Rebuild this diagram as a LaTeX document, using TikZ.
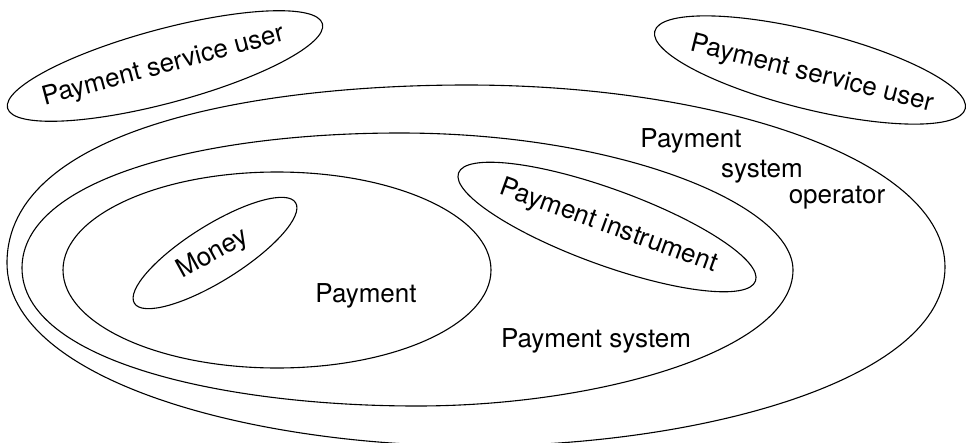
\documentclass[tikz,border=0pt]{standalone}
\usepackage{fontspec}
\setmainfont{TeX Gyre Heros}
\usetikzlibrary{shapes.geometric}
\begin{document}
\begin{tikzpicture}[x=1pt,y=-1pt,
  outline/.style={draw=black,line width=1.1pt},
  oval/.style={ellipse,outline,inner sep=0pt,outer sep=0pt},
  lbl/.style={font=\fontsize{26}{30}\selectfont,inner sep=0pt,anchor=base}]
\useasboundingbox (0,0) rectangle (967,442);
\begin{scope}
  \clip (0,0) rectangle (967,442);
  % payment system operator (outermost region)
  \draw[outline] (7,263)
    .. controls (7,130) and (250,85) .. (467,85)
    .. controls (720,85) and (945,160) .. (945,267)
    .. controls (945,380) and (700,446) .. (475,446)
    .. controls (250,446) and (7,380) .. cycle;
  % payment system
  \draw[outline] (22,268)
    .. controls (22,180) and (200,133) .. (400,133)
    .. controls (620,133) and (793,205) .. (793,270)
    .. controls (793,350) and (600,406) .. (417,406)
    .. controls (220,406) and (22,360) .. cycle;
\end{scope}

% oval regions
\node[oval,minimum width=428pt,minimum height=196pt] (payment) at (277,270) {};
\node[oval,minimum width=190pt,minimum height=56pt,rotate=32] (money) at (215,253) {};
\node[oval,minimum width=316pt,minimum height=76pt,rotate=-20] (instrument) at (607,227) {};
\node[oval,minimum width=326pt,minimum height=74pt,rotate=15] (userL) at (165,66) {};
\node[oval,minimum width=320pt,minimum height=78pt,rotate=-14] (userR) at (810,70) {};

% labels
\node[lbl,rotate=15] (tUserL) at (165,73) {Payment service user};
\node[lbl,rotate=-14] (tUserR) at (810,81) {Payment service user};
\node[lbl,rotate=-20] (tInstr) at (606,233) {Payment instrument};
\node[lbl,rotate=29] (tMoney) at (216,260) {Money};
\node[lbl] (tPayment) at (366,302) {Payment};
\node[lbl] (tSystem) at (596,347) {Payment system};
\node[lbl] (tOp1) at (691,147) {Payment};
\node[lbl] (tOp2) at (762,177) {system};
\node[lbl] (tOp3) at (837,203) {operator};
\end{tikzpicture}
\end{document}
